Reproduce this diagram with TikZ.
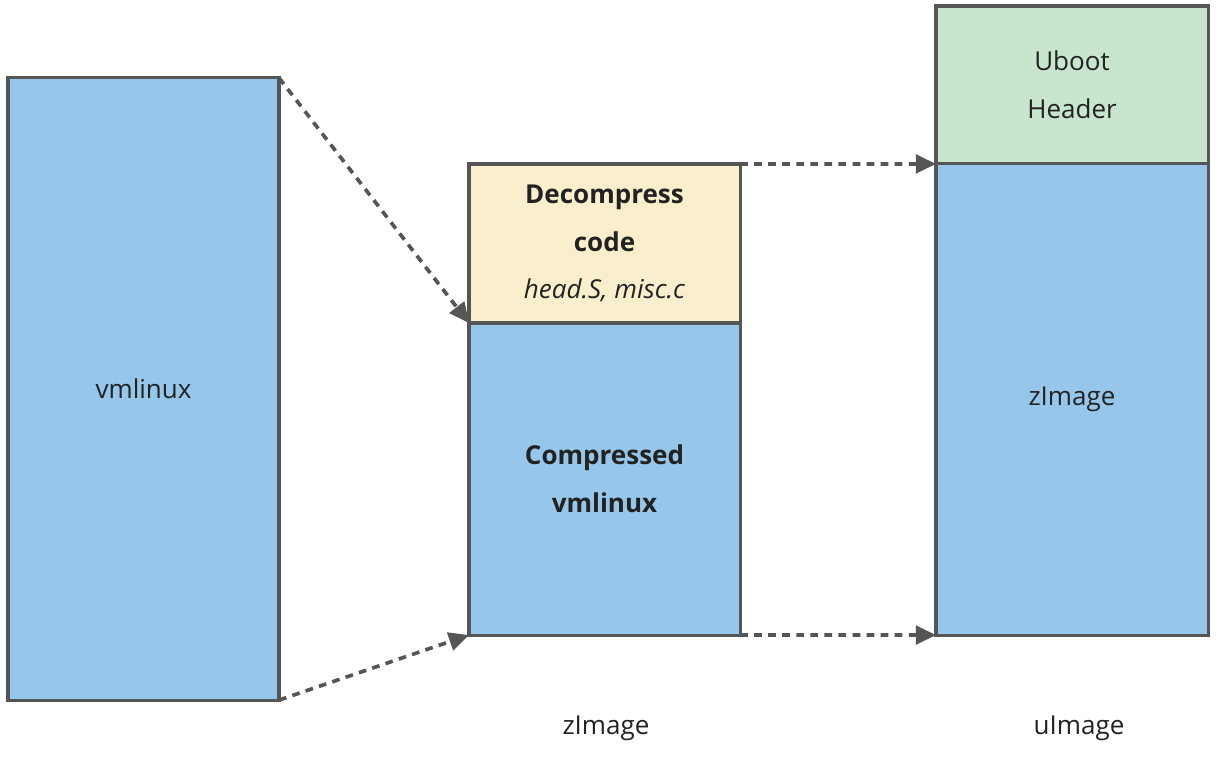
\documentclass[tikz,border=0pt]{standalone}
\usepackage{fontspec}
\setmainfont{Open Sans}
\usetikzlibrary{arrows.meta}
\definecolor{blockblue}{HTML}{96C7EA}
\definecolor{blockyellow}{HTML}{FAEFCC}
\definecolor{blockgreen}{HTML}{C8E6CE}
\definecolor{edgegray}{HTML}{555555}
\definecolor{inkgray}{HTML}{222222}
\tikzset{
	block/.style={draw=edgegray, line width=2.2pt, inner sep=0pt, outer sep=0pt, align=center, text=inkgray, font=\fontsize{18.5}{34}\selectfont},
	link/.style={edgegray, line width=2.6pt, dash pattern=on 5.5pt off 4.5pt, -{Triangle[length=0.5cm, width=0.46cm]}}
}
\begin{document}
\begin{tikzpicture}[x=0.025cm, y=-0.025cm]
		%%%%% START %%%%%
		\useasboundingbox (0, 0) rectangle (1220, 761);
		
		\node[block, fill=blockblue, minimum width=6.775cm, minimum height=15.55cm] (vmlinux) at (143.5, 389) {vmlinux};
		
		\node[block, fill=blockyellow, minimum width=6.775cm, minimum height=3.975cm] (decomp) at (604.5, 243.5) {\textbf{Decompress}\\\textbf{code}\\\textit{head.S, misc.c}};
		\node[block, fill=blockblue, minimum width=6.775cm, minimum height=7.8cm] (compr) at (604.5, 479) {\textbf{Compressed}\\\textbf{vmlinux}};
		
		\node[block, fill=blockgreen, minimum width=6.8cm, minimum height=3.95cm] (uboot) at (1072, 85) {Uboot\\Header};
		\node[block, fill=blockblue, minimum width=6.8cm, minimum height=11.775cm] (zimg) at (1072, 399.5) {zImage};
		
		\node[text=inkgray, font=\fontsize{18.5}{20}\selectfont] (zcap) at (606, 728) {zImage};
		\node[text=inkgray, font=\fontsize{18.5}{20}\selectfont] (ucap) at (1079, 728) {uImage};
		
		\draw[link] (vmlinux.north east) -- (compr.north west);
		\draw[link] (vmlinux.south east) -- (compr.south west);
		\draw[link] (decomp.north east) -- (zimg.north west);
		\draw[link] (compr.south east) -- (zimg.south west);
		
		%%%%% END %%%%%
\end{tikzpicture}
\end{document}
